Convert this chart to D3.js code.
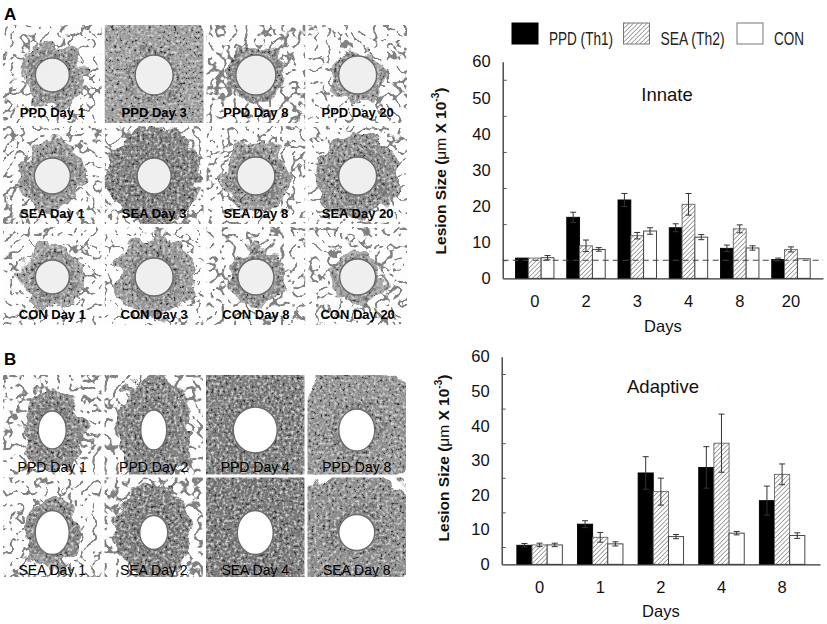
<!DOCTYPE html>
<html><head><meta charset="utf-8">
<script src="https://cdn.jsdelivr.net/npm/d3@7/dist/d3.min.js"></script>
<style>body{margin:0;background:#fff}svg{display:block}</style>
</head><body>
<svg id="c" width="827" height="624"></svg>
<script>
// ---------------- DATA ----------------
const seriesNames = ["PPD (Th1)", "SEA (Th2)", "CON"];
const yTickValues = [0, 10, 20, 30, 40, 50, 60];
const baselineValue = 5;

const innateDays = ["0", "2", "3", "4", "8", "20"];
const innatePPD = [5.6, 16.9, 21.7, 14.0, 8.3, 5.2];
const innatePPDErr = [0, 1.4, 1.8, 1.1, 0.9, 0.4];
const innateSEA = [5.6, 9.0, 11.8, 20.5, 13.7, 8.0];
const innateSEAErr = [0, 1.6, 0.9, 3.0, 1.1, 0.7];
const innateCON = [5.7, 8.0, 13.1, 11.4, 8.4, 5.4];
const innateCONErr = [0.6, 0.5, 0.9, 0.7, 0.6, 0];

const adaptiveDays = ["0", "1", "2", "4", "8"];
const adaptivePPD = [5.5, 11.6, 26.4, 28.0, 18.4];
const adaptivePPDErr = [0.5, 1.0, 4.7, 6.0, 4.2];
const adaptiveSEA = [5.6, 7.8, 21.0, 35.0, 26.0];
const adaptiveSEAErr = [0.5, 1.4, 3.9, 8.4, 3.0];
const adaptiveCON = [5.6, 5.9, 8.0, 9.0, 8.3];
const adaptiveCONErr = [0.5, 0.6, 0.6, 0.5, 0.8];

const panelALabels = [
  ["PPD Day 1", "PPD Day 3", "PPD Day 8", "PPD Day 20"],
  ["SEA Day 1", "SEA Day 3", "SEA Day 8", "SEA Day 20"],
  ["CON Day 1", "CON Day 3", "CON Day 8", "CON Day 20"]
];
const panelBLabels = [
  ["PPD Day 1", "PPD Day 2", "PPD Day 4", "PPD Day 8"],
  ["SEA Day 1", "SEA Day 2", "SEA Day 4", "SEA Day 8"]
];

// ---------------- DRAWING ----------------
const FONT = "'Liberation Sans', Arial, sans-serif";
const svg = d3.select("#c");
svg.append("rect").attr("width", 827).attr("height", 624).attr("fill", "#fff");
const defs = svg.append("defs");

const pat = defs.append("pattern").attr("id", "hatch").attr("patternUnits", "userSpaceOnUse")
  .attr("width", 3.2).attr("height", 3.2).attr("patternTransform", "rotate(45)");
pat.append("rect").attr("width", 3.2).attr("height", 3.2).attr("fill", "#fff");
pat.append("line").attr("x1", 0).attr("y1", 0).attr("x2", 0).attr("y2", 3.2)
  .attr("stroke", "#6a6a6a").attr("stroke-width", 1.2);

const fills = ["#000", "url(#hatch)", "#fff"];
const strokes = ["#000", "#666", "#333"];

function drawChart(o) {
  const g = svg.append("g");
  const x = d3.scaleBand().domain(o.days).range([o.x0, o.x1]).paddingInner(0.25).paddingOuter(0.25);
  const xs = d3.scaleBand().domain([0, 1, 2]).range([0, x.bandwidth()]);
  const y = d3.scaleLinear().domain([0, 60]).range([o.y0, o.y1]);

  o.series.forEach((s, si) => {
    g.append("g").selectAll("rect").data(s.v).join("rect")
      .attr("x", (d, i) => x(o.days[i]) + xs(si))
      .attr("y", d => y(d))
      .attr("width", xs.bandwidth())
      .attr("height", d => y(0) - y(d))
      .attr("fill", fills[si]).attr("stroke", strokes[si]).attr("stroke-width", 0.9);
  });
  if (o.dashed) {
    g.append("line").attr("x1", o.x0).attr("x2", o.x1)
      .attr("y1", y(baselineValue)).attr("y2", y(baselineValue))
      .attr("stroke", "#444").attr("stroke-width", 1.1).attr("stroke-dasharray", "6,4");
  }
  o.series.forEach((s, si) => {
    const eg = g.append("g").attr("stroke", "#333").attr("stroke-width", 1);
    s.v.forEach((v, i) => {
      const e = s.e[i];
      if (!e) return;
      const cx = x(o.days[i]) + xs(si) + xs.bandwidth() / 2;
      eg.append("line").attr("x1", cx).attr("x2", cx).attr("y1", y(v - e)).attr("y2", y(v + e));
      eg.append("line").attr("x1", cx - 3).attr("x2", cx + 3).attr("y1", y(v + e)).attr("y2", y(v + e));
      eg.append("line").attr("x1", cx - 3).attr("x2", cx + 3).attr("y1", y(v - e)).attr("y2", y(v - e));
    });
  });

  const ya = g.append("g").attr("transform", `translate(${o.x0},0)`)
    .call(d3.axisLeft(y).tickValues(yTickValues).tickSize(0).tickSizeOuter(0).tickPadding(12).tickFormat(d3.format("d")));
  ya.select(".domain").attr("stroke", "#333").attr("stroke-width", 1.3);
  ya.selectAll("text").attr("font-family", FONT).attr("font-size", 16.5).attr("fill", "#111");
  const ym = g.append("g").attr("transform", `translate(${o.x0},0)`)
    .call(d3.axisLeft(y).tickValues(d3.range(5, 60, 10)).tickSize(-4).tickSizeOuter(0).tickFormat(""));
  ym.select(".domain").remove();
  ym.selectAll("line").attr("stroke", "#555");

  const xa = g.append("g").attr("transform", `translate(0,${y(0)})`)
    .call(d3.axisBottom(x).tickSize(0).tickSizeOuter(0).tickPadding(17));
  xa.select(".domain").attr("stroke", "#333").attr("stroke-width", 1.3);
  xa.selectAll("text").attr("font-family", FONT).attr("font-size", 16.5).attr("fill", "#111");

  g.append("text").attr("x", (o.x0 + o.x1) / 2).attr("y", o.daysY).attr("text-anchor", "middle")
    .attr("font-family", FONT).attr("font-size", 16.5).attr("fill", "#111").text("Days");
  g.append("text").attr("x", o.titleX).attr("y", o.titleY).attr("text-anchor", "middle")
    .attr("font-family", FONT).attr("font-size", 18.5).attr("fill", "#111").text(o.title);
  const yt = g.append("text").attr("transform", `translate(${o.ytX},${o.ytY}) rotate(-90)`)
    .attr("text-anchor", "middle").attr("font-family", FONT).attr("font-size", 15.5)
    .attr("font-weight", "bold").attr("fill", "#111");
  yt.append("tspan").text("Lesion Size (");
  yt.append("tspan").attr("font-weight", "normal").text("\u03bcm");
  yt.append("tspan").text(" X 10");
  yt.append("tspan").attr("font-size", 10).attr("dy", -7).text("-3");
  yt.append("tspan").attr("dy", 7).text(")");
}

drawChart({
  days: innateDays, x0: 502.7, x1: 823, y0: 278.3, y1: 61.7,
  series: [{v: innatePPD, e: innatePPDErr}, {v: innateSEA, e: innateSEAErr}, {v: innateCON, e: innateCONErr}],
  dashed: true, title: "Innate", titleX: 667, titleY: 101, daysY: 332, ytX: 446, ytY: 171
});
drawChart({
  days: adaptiveDays, x0: 501.7, x1: 820, y0: 564.3, y1: 356.7,
  series: [{v: adaptivePPD, e: adaptivePPDErr}, {v: adaptiveSEA, e: adaptiveSEAErr}, {v: adaptiveCON, e: adaptiveCONErr}],
  dashed: false, title: "Adaptive", titleX: 663, titleY: 393, daysY: 617, ytX: 449, ytY: 458
});

const legX = [512, 623.5, 737];
const legTextW = [64, 64, 30];
const lg = svg.append("g");
seriesNames.forEach((n, i) => {
  lg.append("rect").attr("x", legX[i]).attr("y", 23).attr("width", 26).attr("height", 21)
    .attr("fill", fills[i]).attr("stroke", i === 0 ? "#000" : "#777").attr("stroke-width", 1);
  lg.append("text").attr("x", legX[i] + 37).attr("y", 45)
    .attr("font-family", "'Liberation Sans Narrow', 'Liberation Sans', Arial, sans-serif")
    .attr("font-size", 18).attr("fill", "#222")
    .attr("textLength", legTextW[i]).attr("lengthAdjust", "spacingAndGlyphs").text(n);
});

// ---------------- MICROGRAPH PANELS (decorative) ----------------
svg.append("text").attr("x", 4).attr("y", 20).attr("font-family", FONT).attr("font-weight", "bold")
  .attr("font-size", 17).text("A");
svg.append("text").attr("x", 4).attr("y", 365).attr("font-family", FONT).attr("font-weight", "bold")
  .attr("font-size", 17).text("B");

// look of each panel: [granuloma scale, darkness, bead rx, bead ry, lung density]
const lookA = [
  [[1.9, 0.45, 17, 17, 1], [3.6, 0.4, 19, 20, 0], [1.45, 0.45, 20, 20, 1.2], [1.25, 0.4, 19, 19, 1]],
  [[1.9, 0.45, 18, 18, 1], [2.7, 0.7, 17, 18, 1], [1.8, 0.45, 19, 19, 1], [2.2, 0.55, 19, 19, 1]],
  [[1.9, 0.4, 17, 17, 1], [2.1, 0.45, 19, 19, 0.8], [1.6, 0.45, 18, 18, 1.2], [1.2, 0.45, 18, 18, 1]]
];
const lookB = [
  [[2.2, 0.6, 14, 19, 1.2], [2.8, 0.65, 13, 20, 1.3], [3.6, 0.7, 22, 23, 0], [3.4, 0.5, 18, 21, 0]],
  [[1.6, 0.5, 17, 22, 1], [2.8, 0.7, 14, 17, 1.3], [3.8, 0.75, 18, 22, 0], [3.6, 0.55, 18, 18, 0]]
];

let fid = 0;
function panel(px, py, w, h, label, look, bold, labelDy, cyOff) {
  const id = fid++;
  const [gs, dark, brx, bry, lung] = look;
  const cx = px + w / 2, cy = py + cyOff;
  const clip = defs.append("clipPath").attr("id", "clip" + id);
  clip.append("rect").attr("x", px).attr("y", py).attr("width", w).attr("height", h);
  const g = svg.append("g").attr("clip-path", `url(#clip${id})`);
  g.append("rect").attr("x", px).attr("y", py).attr("width", w).attr("height", h).attr("fill", "#fdfdfd");

  if (lung > 0) {
    const f = defs.append("filter").attr("id", "lung" + id).attr("filterUnits", "userSpaceOnUse")
      .attr("x", px).attr("y", py).attr("width", w).attr("height", h)
      .attr("color-interpolation-filters", "sRGB");
    f.append("feTurbulence").attr("type", "turbulence").attr("baseFrequency", 0.085)
      .attr("numOctaves", 2).attr("seed", id * 7 + 3).attr("result", "t");
    f.append("feColorMatrix").attr("in", "t").attr("type", "matrix")
      .attr("values", `0 0 0 0 0.5  0 0 0 0 0.5  0 0 0 0 0.5  ${-16 / lung} 0 0 0 2.3`);
    g.append("rect").attr("x", px).attr("y", py).attr("width", w).attr("height", h)
      .attr("fill", "#888").attr("filter", `url(#lung${id})`);
  }

  const fg = defs.append("filter").attr("id", "gran" + id).attr("filterUnits", "userSpaceOnUse")
    .attr("x", px - 20).attr("y", py - 20).attr("width", w + 40).attr("height", h + 40)
    .attr("color-interpolation-filters", "sRGB");
  fg.append("feTurbulence").attr("type", "fractalNoise").attr("baseFrequency", 0.06)
    .attr("numOctaves", 2).attr("seed", id * 5 + 1).attr("result", "w");
  fg.append("feDisplacementMap").attr("in", "SourceGraphic").attr("in2", "w").attr("scale", 24)
    .attr("xChannelSelector", "R").attr("yChannelSelector", "G").attr("result", "shape");
  fg.append("feTurbulence").attr("type", "fractalNoise").attr("baseFrequency", 0.35)
    .attr("numOctaves", 2).attr("seed", id * 3 + 2).attr("result", "fn");
  fg.append("feColorMatrix").attr("in", "fn").attr("type", "matrix")
    .attr("values", "0 0 0 0 0.2  0 0 0 0 0.2  0 0 0 0 0.2  -10 0 0 0 3.4").attr("result", "dots");
  fg.append("feColorMatrix").attr("in", "fn").attr("type", "matrix")
    .attr("values", "0 0 0 0 0.85  0 0 0 0 0.85  0 0 0 0 0.85  3 0 0 0 -1.4").attr("result", "light");
  fg.append("feComposite").attr("in", "dots").attr("in2", "shape").attr("operator", "in").attr("result", "d");
  fg.append("feComposite").attr("in", "light").attr("in2", "shape").attr("operator", "in").attr("result", "l");
  const m = fg.append("feMerge");
  m.append("feMergeNode").attr("in", "shape");
  m.append("feMergeNode").attr("in", "l");
  m.append("feMergeNode").attr("in", "d");
  const tone = d3.interpolateRgb("#c4c4c4", "#5a5a5a")(dark);
  const gg = g.append("g").attr("filter", `url(#gran${id})`);
  gg.append("ellipse").attr("cx", cx).attr("cy", cy).attr("rx", brx * gs).attr("ry", bry * gs).attr("fill", tone);
  gg.append("ellipse").attr("cx", cx).attr("cy", cy).attr("rx", brx + 5).attr("ry", bry + 5)
    .attr("fill", "none").attr("stroke", "#6e6e6e").attr("stroke-width", 6).attr("opacity", 0.6);

  g.append("ellipse").attr("cx", cx).attr("cy", cy).attr("rx", brx).attr("ry", bry)
    .attr("fill", bold ? "#efefef" : "#fff").attr("stroke", "#6a6a6a").attr("stroke-width", 1.4);

  g.append("text").attr("x", cx).attr("y", py + labelDy).attr("text-anchor", "middle")
    .attr("font-family", FONT).attr("font-weight", bold ? "bold" : "normal")
    .attr("font-size", bold ? 13 : 14).attr("fill", "#000").text(label);
}

const colA = d3.scaleBand().domain(d3.range(4)).range([3, 407]).paddingInner(0.03);
const rowA = d3.scaleBand().domain(d3.range(3)).range([25, 325]).paddingInner(0.03);
panelALabels.forEach((row, r) => row.forEach((lab, c) =>
  panel(colA(c), rowA(r), colA.bandwidth(), rowA.bandwidth(), lab, lookA[r][c], true, 92, 50)));

const colB = d3.scaleBand().domain(d3.range(4)).range([3, 406]).paddingInner(0.03);
const rowB = d3.scaleBand().domain(d3.range(2)).range([375, 577]).paddingInner(0.03);
panelBLabels.forEach((row, r) => row.forEach((lab, c) =>
  panel(colB(c), rowB(r), colB.bandwidth(), rowB.bandwidth(), lab, lookB[r][c], false, 97, 55)));
</script>
</body></html>
